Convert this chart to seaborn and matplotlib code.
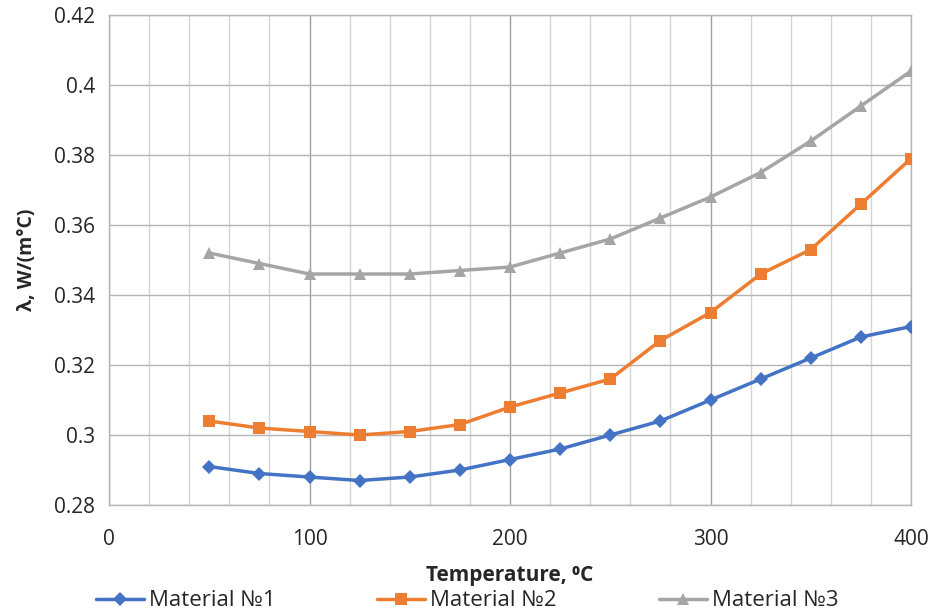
import numpy as np
import pandas as pd
import matplotlib
matplotlib.use("Agg")
import matplotlib.pyplot as plt
import seaborn as sns
from matplotlib.ticker import MultipleLocator, FuncFormatter

temps = [50, 75, 100, 125, 150, 175, 200, 225, 250, 275, 300, 325, 350, 375, 400]
mat1 = [0.291, 0.289, 0.288, 0.287, 0.288, 0.290, 0.293, 0.296, 0.300, 0.304, 0.310, 0.316, 0.322, 0.328, 0.331]
mat2 = [0.304, 0.302, 0.301, 0.300, 0.301, 0.303, 0.308, 0.312, 0.316, 0.327, 0.335, 0.346, 0.353, 0.366, 0.379]
mat3 = [0.352, 0.349, 0.346, 0.346, 0.346, 0.347, 0.348, 0.352, 0.356, 0.362, 0.368, 0.375, 0.384, 0.394, 0.404]
names = ["Material №1", "Material №2", "Material №3"]
colors = ["#4472C4", "#ED7D31", "#A5A5A5"]
markers = ["D", "s", "^"]
msizes = [7, 9, 9]

sns.set_style("white")
plt.rcParams['font.family'] = ['Open Sans', 'DejaVu Sans']

df = pd.concat([
    pd.DataFrame({"T": temps, "lam": v, "mat": n}) for v, n in zip([mat1, mat2, mat3], names)
])

fig = plt.figure(figsize=(9.34, 6.12), dpi=100)
ax = fig.add_axes([0.1167, 0.1748, 0.8587, 0.8007])

for n, c, m, ms in zip(names, colors, markers, msizes):
    sub = df[df["mat"] == n]
    sns.lineplot(data=sub, x="T", y="lam", ax=ax, color=c, marker=m, markersize=ms,
                 markeredgewidth=0, linewidth=2.5, label=n, zorder=3)

ax.set_xlim(0, 400)
ax.set_ylim(0.28, 0.42)
ax.xaxis.set_major_locator(MultipleLocator(100))
ax.xaxis.set_minor_locator(MultipleLocator(20))
ax.yaxis.set_major_locator(MultipleLocator(0.02))
ax.yaxis.set_major_formatter(FuncFormatter(lambda v, p: ('%.2f' % v).rstrip('0').rstrip('.') if abs(v) > 1e-9 else '0'))
ax.grid(which='minor', axis='x', color='#d4d4d4', linewidth=1.0)
ax.grid(which='major', axis='x', color='#a0a0a0', linewidth=1.0)
ax.grid(which='major', axis='y', color='#b4b4b4', linewidth=1.0)
ax.set_axisbelow(True)
for s in ax.spines.values():
    s.set_color('#b4b4b4')
    s.set_linewidth(1.0)
ax.tick_params(axis='y', which='both', length=0, labelsize=15, pad=10)
ax.tick_params(axis='x', which='minor', length=0)
ax.tick_params(axis='x', which='major', length=5, width=1.0, color='#a0a0a0',
               direction='out', labelsize=15, pad=12)

ax.set_xlabel("Temperature, ⁰C", fontsize=15, fontweight='bold', labelpad=11)
ax.set_ylabel("λ, W/(m°C)", fontsize=14, fontweight='bold', labelpad=12)

ax.legend(loc='center', bbox_to_anchor=(0.5, 1 - 601 / 612), bbox_transform=fig.transFigure,
          ncol=3, frameon=False, fontsize=16, handlelength=2.15, columnspacing=4.6,
          handletextpad=0.22, borderaxespad=0, borderpad=0)

fig.savefig("out.png", dpi=100)
